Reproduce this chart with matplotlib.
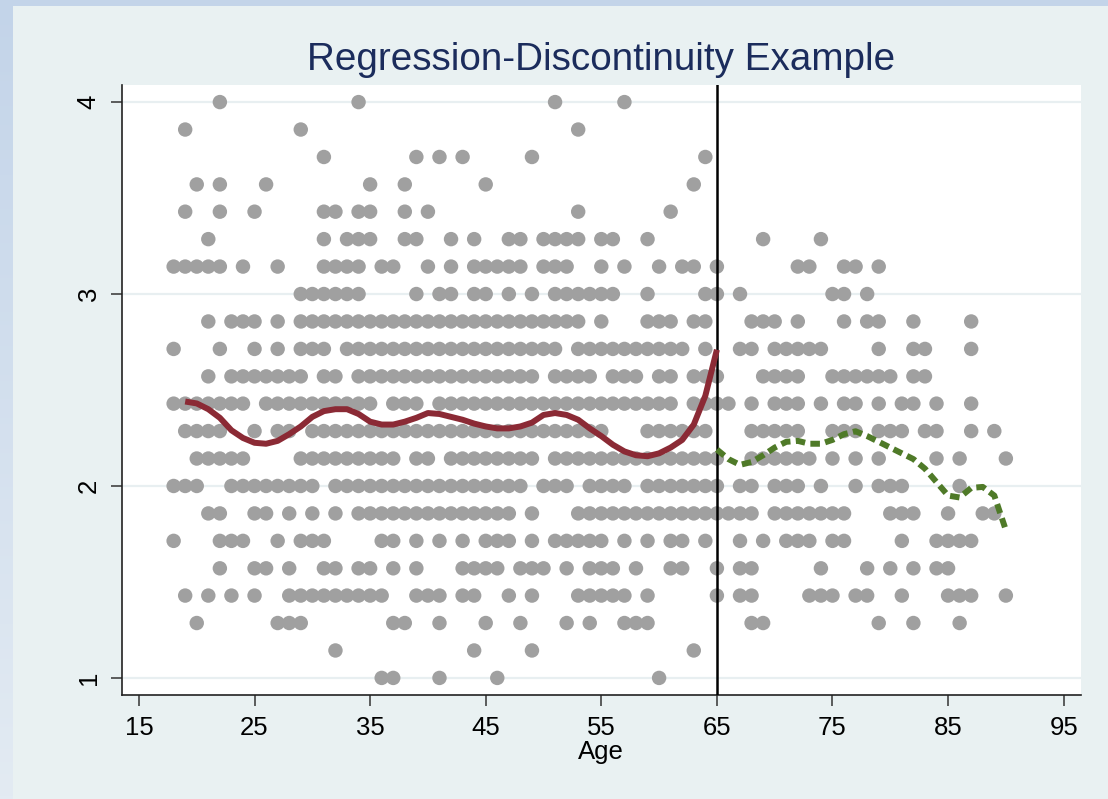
import numpy as np
import matplotlib
matplotlib.use("Agg")
import matplotlib.pyplot as plt
from matplotlib.colors import LinearSegmentedColormap

plt.rcParams['font.family'] = ['Liberation Sans', 'DejaVu Sans']

# y values the scores can take
levels = [1.000, 1.143, 1.286, 1.429, 1.571, 1.714, 1.857, 2.000, 2.143, 2.286, 2.429,
          2.571, 2.714, 2.857, 3.000, 3.143, 3.286, 3.429, 3.571, 3.714, 3.857, 4.000]

# ages that have an observation at each level (same order as levels)
ages_by_level = [
    [36, 37, 41, 46, 60],
    [32, 44, 49, 63],
    [20, 27, 28, 29, 37, 38, 41, 45, 48, 52, 54, 57, 58, 59, 68, 69, 79, 82, 86],
    [19, 21, 23, 25, 28, 29, 30, 31, 32, 33, 34, 35, 36, 39, 40, 41, 43, 44, 47, 49,
     53, 54, 55, 56, 57, 59, 65, 67, 68, 73, 74, 75, 77, 78, 81, 85, 86, 87, 90],
    [22, 25, 26, 28, 31, 32, 34, 35, 37, 39, 43, 44, 45, 46, 48, 49, 50, 52, 54, 55,
     56, 58, 61, 62, 65, 67, 68, 74, 78, 80, 82, 84, 85],
    [18, 22, 23, 24, 27, 29, 30, 31, 36, 37, 39, 41, 43, 45, 46, 47, 49, 51, 52, 53,
     54, 55, 57, 59, 61, 62, 64, 67, 69, 71, 72, 73, 75, 76, 81, 84, 85, 86, 87],
    [21, 22, 25, 26, 28, 30, 32, 34, 35, 36, 37, 38, 39, 40, 41, 42, 43, 44, 45, 46,
     47, 49, 53, 54, 55, 56, 57, 58, 59, 60, 61, 62, 63, 64, 65, 66, 67, 68, 70, 71,
     72, 73, 74, 75, 76, 80, 81, 82, 85, 88, 89],
    [18, 19, 20, 23, 24, 25, 26, 27, 28, 29, 30, 32, 33, 34, 35, 36, 37, 38, 39, 40,
     41, 42, 43, 44, 45, 46, 47, 48, 50, 51, 52, 54, 55, 56, 57, 59, 60, 61, 62, 63,
     64, 65, 67, 68, 70, 71, 72, 74, 77, 79, 80, 81, 86],
    [20, 21, 22, 23, 24, 29, 30, 31, 32, 33, 34, 35, 36, 37, 39, 40, 42, 43, 44, 45,
     46, 47, 48, 49, 51, 52, 53, 54, 55, 56, 57, 58, 59, 60, 61, 62, 63, 64, 65, 68,
     69, 70, 71, 72, 73, 75, 77, 79, 84, 86, 90],
    [19, 20, 21, 22, 25, 27, 28, 30, 31, 32, 33, 34, 35, 36, 37, 38, 39, 40, 41, 42,
     43, 44, 45, 46, 47, 48, 49, 50, 51, 52, 53, 54, 55, 59, 60, 61, 62, 63, 64, 68,
     69, 70, 71, 72, 75, 76, 77, 79, 80, 81, 83, 84, 87, 89],
    [18, 19, 20, 21, 22, 23, 24, 26, 27, 28, 29, 30, 31, 32, 33, 34, 35, 37, 38, 39,
     41, 42, 43, 44, 45, 46, 47, 48, 49, 50, 51, 52, 53, 54, 55, 56, 57, 58, 59, 60,
     61, 63, 64, 65, 66, 68, 70, 71, 72, 74, 76, 77, 79, 81, 82, 84, 87],
    [21, 23, 24, 25, 26, 27, 28, 29, 31, 32, 34, 35, 36, 37, 38, 39, 40, 41, 42, 43,
     44, 45, 46, 47, 48, 49, 51, 52, 53, 54, 56, 57, 58, 60, 61, 63, 64, 65, 69, 70,
     71, 72, 75, 76, 77, 78, 79, 80, 82, 83],
    [18, 22, 25, 27, 29, 30, 31, 33, 34, 35, 36, 37, 38, 39, 40, 41, 42, 43, 44, 45,
     46, 47, 48, 49, 50, 51, 53, 54, 55, 56, 57, 58, 59, 60, 61, 62, 64, 67, 68, 70,
     71, 72, 73, 74, 79, 82, 83, 87],
    [21, 23, 24, 25, 27, 29, 30, 31, 32, 33, 34, 35, 36, 37, 38, 39, 40, 41, 42, 43,
     44, 45, 46, 47, 48, 49, 50, 51, 52, 53, 55, 59, 60, 61, 63, 64, 68, 69, 70, 72,
     76, 78, 79, 82, 87],
    [29, 30, 31, 32, 33, 34, 39, 41, 42, 44, 45, 47, 49, 51, 52, 53, 54, 55, 56, 59,
     64, 65, 67, 75, 76, 78],
    [18, 19, 20, 21, 22, 24, 27, 31, 32, 33, 34, 36, 37, 40, 42, 44, 45, 46, 47, 48,
     50, 51, 52, 55, 57, 60, 62, 63, 65, 72, 73, 76, 77, 79],
    [21, 31, 33, 34, 35, 38, 39, 42, 44, 47, 48, 50, 51, 52, 53, 55, 56, 59, 69, 74],
    [19, 22, 25, 31, 32, 34, 35, 38, 40, 53, 61],
    [20, 22, 26, 35, 38, 45, 63],
    [31, 39, 41, 43, 49, 64],
    [19, 29, 53],
    [22, 34, 51, 57],
]

# smoothed fit below the cutoff
fit_left_age = [19, 20, 21, 22, 23, 24, 25, 26, 27, 28, 29, 30, 31, 32, 33, 34, 35, 36,
                37, 38, 39, 40, 41, 42, 43, 44, 45, 46, 47, 48, 49, 50, 51, 52, 53, 54,
                55, 56, 57, 58, 59, 60, 61, 62, 63, 64, 65]
fit_left_val = [2.44, 2.43, 2.40, 2.355, 2.29, 2.25, 2.225, 2.22, 2.235, 2.27, 2.31, 2.36,
                2.39, 2.40, 2.40, 2.375, 2.335, 2.32, 2.32, 2.335, 2.355, 2.38, 2.375,
                2.36, 2.345, 2.325, 2.31, 2.30, 2.30, 2.31, 2.33, 2.37, 2.38, 2.37, 2.345,
                2.30, 2.26, 2.215, 2.18, 2.16, 2.155, 2.17, 2.20, 2.24, 2.32, 2.47, 2.71]

# smoothed fit above the cutoff
fit_right_age = [65, 66, 67, 68, 69, 70, 71, 72, 73, 74, 75, 76, 77, 78, 79, 80, 81, 82,
                 83, 84, 85, 86, 87, 88, 89, 90]
fit_right_val = [2.19, 2.14, 2.11, 2.125, 2.16, 2.20, 2.23, 2.235, 2.22, 2.22, 2.24, 2.27,
                 2.285, 2.26, 2.23, 2.20, 2.17, 2.14, 2.09, 2.02, 1.95, 1.94, 1.99, 1.995,
                 1.95, 1.77]

cutoff = 65
xticks = [15, 25, 35, 45, 55, 65, 75, 85, 95]
yticks = [1, 2, 3, 4]

xs, ys = [], []
for lev, ages in zip(levels, ages_by_level):
    xs += ages
    ys += [lev] * len(ages)

W, H = 1108, 799
fig = plt.figure(figsize=(W / 100, H / 100), dpi=100)
fig.patch.set_facecolor('#e9f1f2')

# blue slide border on the left and top
bg = fig.add_axes([0, 0, 1, 1], zorder=-10)
bg.axis('off')
grad = np.linspace(0, 1, 256).reshape(-1, 1)
cm = LinearSegmentedColormap.from_list('b', ['#c3d4e9', '#e3ebf3'])
bg.imshow(grad, cmap=cm, aspect='auto', extent=[0, 13 / W, 0, 1], transform=bg.transAxes)
bg.add_patch(plt.Rectangle((0, 1 - 6 / H), 1, 6 / H, transform=bg.transAxes,
                           color='#c3d4e9', lw=0))
bg.set_xlim(0, 1)
bg.set_ylim(0, 1)

ax = fig.add_axes([121.5 / W, (H - 695) / H, (1081 - 121.5) / W, (695 - 85) / H])
ax.set_facecolor('white')

ax.scatter(xs, ys, s=108, color='#a0a0a0', edgecolors='none', zorder=2)
ax.axvline(cutoff, color='black', lw=1.8, zorder=3)
ax.plot(fit_left_age, fit_left_val, color='#8b2a35', lw=4.3, zorder=4,
        solid_capstyle='butt')
ax.plot(fit_right_age, fit_right_val, color='#4f7a28', lw=4.3, zorder=4,
        linestyle=(0, (1.6, 0.9)), dash_capstyle='butt')

ax.set_xlim(13.49, 96.5)
ax.set_ylim(0.911, 4.089)
ax.set_xticks(xticks)
ax.set_yticks(yticks)
ax.set_yticklabels([str(t) for t in yticks], rotation=90, va='center')
ax.tick_params(axis='both', labelsize=18.5, length=8, width=1.1, color='#333333',
               pad=7, labelcolor='black')
ax.grid(axis='y', color='#e8eff1', lw=1.6, zorder=0)
ax.set_axisbelow(True)
for side in ['top', 'right']:
    ax.spines[side].set_visible(False)
for side in ['left', 'bottom']:
    ax.spines[side].set_color('#222222')
    ax.spines[side].set_linewidth(1.2)

ax.set_xlabel('Age', fontsize=18.5, labelpad=0)

fig.text((121.5 + 1081) / 2 / W, 1 - 60 / H, 'Regression-Discontinuity Example',
         ha='center', va='center', fontsize=27.8, color='#1b2c5c')

fig.savefig('out.png', dpi=100, facecolor=fig.get_facecolor())
